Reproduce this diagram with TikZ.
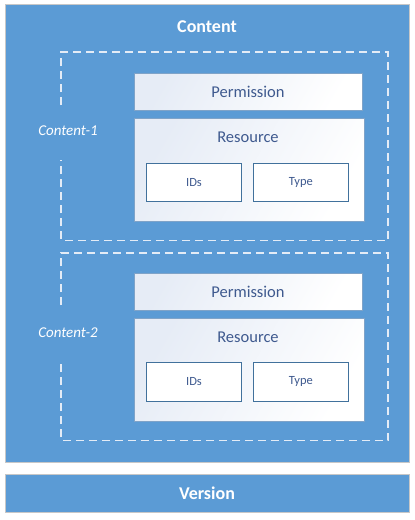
\documentclass[tikz,border=0pt]{standalone}
\usepackage{fontspec}
\setmainfont{Carlito}
\begin{document}
\begin{tikzpicture}[x=1pt,y=-1pt,
  bluebox/.style={draw=black!22, line width=1pt, fill=mainblue, inner sep=0pt, anchor=north west},
  whitebox/.style={draw=edgeblue, line width=0.8pt, left color=grad, right color=white, shading angle=60, inner sep=0pt, anchor=north west},
  smallbox/.style={draw=darkedge, line width=0.9pt, fill=white, inner sep=0pt, anchor=north west, font=\fontsize{12.5}{14}\selectfont, text=txtblue},
  bigtxt/.style={font=\fontsize{16.5}{19}\selectfont, text=txtblue},
  titletxt/.style={font=\bfseries\fontsize{18}{21}\selectfont, text=white},
  sidetxt/.style={font=\itshape\fontsize{15}{18}\selectfont, text=white},
  dashframe/.style={draw=dashwhite, line width=1.1pt, dash pattern=on 8pt off 5pt}
]
\definecolor{mainblue}{HTML}{5B9BD5}
\definecolor{edgeblue}{HTML}{7FA3C8}
\definecolor{darkedge}{HTML}{41719C}
\definecolor{grad}{HTML}{E6ECF6}
\definecolor{txtblue}{HTML}{3F5A8F}
\definecolor{dashwhite}{HTML}{E4ECF6}
\fill[white] (0,0) rectangle (415,520);
\useasboundingbox (0,0) rectangle (415,520);

\node[bluebox, minimum width=404pt, minimum height=458pt] (content) at (5,4) {};
\node[titletxt] (contentlbl) at (207,27) {Content};

\node[bluebox, minimum width=404pt, minimum height=38pt] (version) at (5,474) {};
\node[titletxt] (versionlbl) at (207,493) {Version};

% group 1
\draw[dashframe] (61,105) -- (61,52) -- (388,52) -- (388,240.5) -- (61,240.5) -- (61,160);
\node[sidetxt] (c1) at (68,131) {Content-1};
\node[whitebox, minimum width=228pt, minimum height=37.5pt] (perm1) at (134,72.7) {};
\node[bigtxt] (perm1lbl) at (248,91.5) {Permission};
\node[whitebox, minimum width=230pt, minimum height=103pt] (res1) at (134,118) {};
\node[bigtxt] (res1lbl) at (248,137) {Resource};
\node[smallbox, minimum width=94.5pt, minimum height=38.5pt] (ids1) at (146.3,162.5) {IDs};
\node[smallbox, minimum width=94.5pt, minimum height=38.5pt] (type1) at (253.2,162.5) {Type};

% group 2
\draw[dashframe] (61,305) -- (61,253) -- (388,253) -- (388,440.5) -- (61,440.5) -- (61,360.5);
\node[sidetxt] (c2) at (68,333) {Content-2};
\node[whitebox, minimum width=228pt, minimum height=37.5pt] (perm2) at (134,272.7) {};
\node[bigtxt] (perm2lbl) at (248,291.5) {Permission};
\node[whitebox, minimum width=230pt, minimum height=103pt] (res2) at (134,318) {};
\node[bigtxt] (res2lbl) at (248,337) {Resource};
\node[smallbox, minimum width=94.5pt, minimum height=38.5pt] (ids2) at (146.3,362) {IDs};
\node[smallbox, minimum width=94.5pt, minimum height=38.5pt] (type2) at (253.2,362) {Type};
\end{tikzpicture}
\end{document}
